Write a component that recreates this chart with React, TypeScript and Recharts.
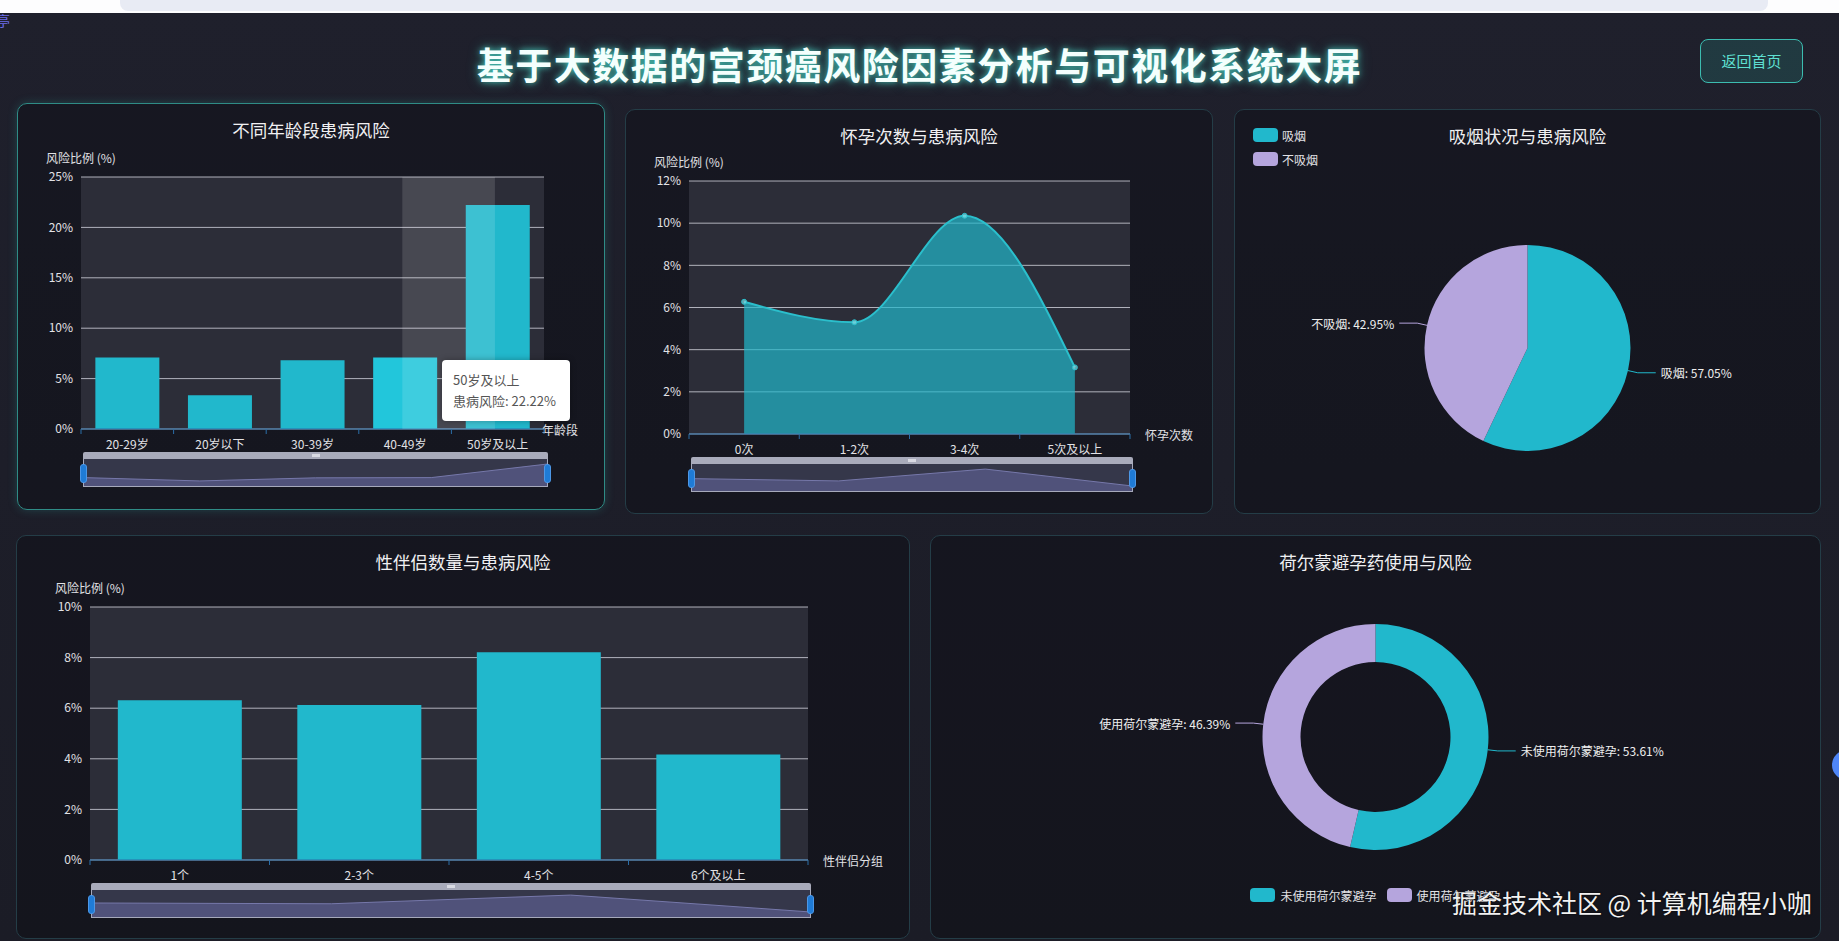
import React from 'react';
import {
  BarChart, Bar, AreaChart, Area, PieChart, Pie, Cell,
  XAxis, YAxis, CartesianGrid, ReferenceArea,
} from 'recharts';

// ---------- data ----------
const ageCategories = ['20-29岁', '20岁以下', '30-39岁', '40-49岁', '50岁及以上'];
const ageRisk = [7.09, 3.36, 6.83, 7.09, 22.22];
const ageTicks = [0, 5, 10, 15, 20, 25];

const pregCategories = ['0次', '1-2次', '3-4次', '5次及以上'];
const pregRisk = [6.27, 5.3, 10.35, 3.16];
const pregTicks = [0, 2, 4, 6, 8, 10, 12];

const smokeLabels = ['吸烟', '不吸烟'];
const smokeShares = [57.05, 42.95];

const partnerCategories = ['1个', '2-3个', '4-5个', '6个及以上'];
const partnerRisk = [6.31, 6.13, 8.21, 4.17];
const partnerTicks = [0, 2, 4, 6, 8, 10];

const hormoneLabels = ['未使用荷尔蒙避孕', '使用荷尔蒙避孕'];
const hormoneShares = [53.61, 46.39];

const hoverIndex = 4;     // tooltip category
const emphasisIndex = 3;  // highlighted bar
const shadowStart = 0.235; // axis-pointer shadow (mid-transition) as share of the two bands
const shadowWidth = 0.5;

// ---------- style ----------
const TEAL = '#21b8cc';
const TEAL_HI = '#22c6db';
const PURPLE = '#b5a5dd';
const PIE_COLORS = [TEAL, PURPLE];
const AXIS_BLUE = '#2b6ea8';
const GRID = '#c9cad3';
const PLOT_BG = '#2c2d38';
const TXT = '#e2e2e6';
const FONT = '"Noto Sans CJK SC", "Microsoft YaHei", "Noto Sans", sans-serif';

const ageData = ageCategories.map((name, i) => ({ name, risk: ageRisk[i] }));
const pregData = pregCategories.map((name, i) => ({ name, risk: pregRisk[i] }));
const partnerData = partnerCategories.map((name, i) => ({ name, risk: partnerRisk[i] }));
const smokeData = smokeLabels.map((name, i) => ({ name, value: smokeShares[i] }));
const hormoneData = hormoneLabels.map((name, i) => ({ name, value: hormoneShares[i] }));

const pct = (v: number) => `${v}%`;

const TICK_SIZE = 6;
const TICK_MARGIN = 4;

const CatTick = (props: any) => {
  const { x, y, payload, index, visibleTicksCount } = props;
  const off = payload && payload.offset ? payload.offset : 0;
  const axisY = y - TICK_SIZE - TICK_MARGIN;
  return (
    <g>
      <line x1={x - off} x2={x - off} y1={axisY} y2={axisY + 5} stroke={AXIS_BLUE} strokeWidth={1} />
      {index === visibleTicksCount - 1 && (
        <line x1={x + off} x2={x + off} y1={axisY} y2={axisY + 5} stroke={AXIS_BLUE} strokeWidth={1} />
      )}
      <text x={x} y={axisY + 14} textAnchor="middle" dominantBaseline="central" fill={TXT} fontSize={12} fontFamily={FONT}>
        {payload.value}
      </text>
    </g>
  );
};

const yName = (text: string) => ({
  content: (p: any) => {
    const vb = p.viewBox || {};
    return (
      <text x={vb.x + vb.width} y={vb.y - 20} textAnchor="middle" dominantBaseline="central" fill={TXT} fontSize={12} fontFamily={FONT}>
        {text}
      </text>
    );
  },
});

const xName = (text: string, gap: number) => ({
  content: (p: any) => {
    const vb = p.viewBox || {};
    return (
      <text x={vb.x + vb.width + gap} y={vb.y} textAnchor="start" dominantBaseline="central" fill={TXT} fontSize={12} fontFamily={FONT}>
        {text}
      </text>
    );
  },
});

const makePieLabel = (fontSize: number) => (p: any) => {
  const RAD = Math.PI / 180;
  const cos = Math.cos(-p.midAngle * RAD);
  const sin = Math.sin(-p.midAngle * RAD);
  const sx = p.cx + p.outerRadius * cos;
  const sy = p.cy + p.outerRadius * sin;
  const mx = p.cx + (p.outerRadius + 10) * cos;
  const my = p.cy + (p.outerRadius + 10) * sin;
  const dir = cos >= 0 ? 1 : -1;
  const ex = mx + dir * 18;
  return (
    <g>
      <polyline points={`${sx},${sy} ${mx},${my} ${ex},${my}`} fill="none" stroke={PIE_COLORS[p.index]} strokeWidth={1} />
      <text x={ex + dir * 5} y={my} textAnchor={dir > 0 ? 'start' : 'end'} dominantBaseline="central" fill="#eeeeee" fontSize={fontSize} fontFamily={FONT}>
        {`${p.name}: ${p.value}%`}
      </text>
    </g>
  );
};

const ShadowShape = (p: any) => (
  <rect x={p.x + p.width * shadowStart} y={p.y} width={p.width * shadowWidth} height={p.height} fill="#ffffff" fillOpacity={0.13} />
);

// ---------- pieces ----------
function Panel({ x, y, w, h, active, title, children }: any) {
  return (
    <div
      style={{
        position: 'absolute', left: x, top: y, width: w, height: h, boxSizing: 'border-box',
        border: `1px solid ${active ? '#2f8c86' : '#243d47'}`, borderRadius: 10,
        background: 'rgba(10,10,15,0.35)',
        boxShadow: active ? '0 0 10px rgba(50,180,170,0.25)' : 'none',
      }}
    >
      <div style={{ position: 'absolute', left: -1, top: -1, width: w, height: h }}>
        {children}
        {title && (
          <div style={{ position: 'absolute', left: 0, top: 17, width: w, textAlign: 'center', fontSize: 17.5, lineHeight: '20px', color: '#f0f0f2' }}>
            {title}
          </div>
        )}
      </div>
    </div>
  );
}

function MiniSlider({ left, top, width, values }: any) {
  const data = values.map((v: number, i: number) => ({ i, v }));
  const min = Math.min(...values);
  const max = Math.max(...values);
  const pad = (max - min) * 0.3;
  const bodyH = 28;
  return (
    <div style={{ position: 'absolute', left, top, width }}>
      <div style={{ height: 7, background: '#a9abbb', borderRadius: '2px 2px 0 0', position: 'relative' }}>
        <div style={{ position: 'absolute', left: width / 2 - 4, top: 2, width: 8, height: 3, background: '#d8d9e2' }} />
      </div>
      <div style={{ height: bodyH, border: '1px solid #a6a9bb', borderTop: 'none', background: '#35374a', boxSizing: 'border-box' }}>
        <AreaChart width={width - 2} height={bodyH - 1} data={data} margin={{ top: 0, right: 0, bottom: 0, left: 0 }}>
          <XAxis dataKey="i" type="number" domain={[0, values.length - 1]} hide />
          <YAxis domain={[min - pad, max + pad]} hide />
          <Area type="linear" dataKey="v" stroke="#7678aa" strokeWidth={1} fill="#50527a" fillOpacity={1} baseValue="dataMin" dot={false} isAnimationActive={false} />
        </AreaChart>
      </div>
      {[-3, width - 4].map((l, k) => (
        <div key={k} style={{ position: 'absolute', left: l, top: 12, width: 7, height: 19, background: '#1f7bd6', border: '1px solid #4d97e6', borderRadius: 3, boxSizing: 'border-box' }} />
      ))}
    </div>
  );
}

function LegendSwatch({ color }: any) {
  return <div style={{ width: 25, height: 14, borderRadius: 4, background: color, flex: 'none' }} />;
}

export default function App() {
  return (
    <div
      style={{
        position: 'absolute', left: 0, top: 0, width: 1839, height: 941, overflow: 'hidden',
        background: 'linear-gradient(180deg, #1f202c 0%, #1b1c26 100%)', fontFamily: FONT, color: TXT,
      }}
    >
      {/* browser strip */}
      <div style={{ position: 'absolute', left: 0, top: 0, width: 1839, height: 13, background: '#fdfdfe' }} />
      <div style={{ position: 'absolute', left: 120, top: 0, width: 1648, height: 11, background: '#e8ebf4', borderRadius: '0 0 8px 8px' }} />
      <div style={{ position: 'absolute', left: -4, top: 12, fontSize: 14, color: '#6d6dea', lineHeight: '16px' }}>亭</div>

      {/* header */}
      <div
        style={{
          position: 'absolute', left: 0, top: 42, width: 1839, textAlign: 'center', fontSize: 37, lineHeight: '44px',
          fontWeight: 700, letterSpacing: 1.5, color: '#f4fffd',
          textShadow: '0 0 6px rgba(80,230,210,0.8), 0 0 14px rgba(60,200,190,0.4)',
        }}
      >
        基于大数据的宫颈癌风险因素分析与可视化系统大屏
      </div>
      <div
        style={{
          position: 'absolute', left: 1700, top: 39, width: 103, height: 44, boxSizing: 'border-box',
          border: '1px solid #3cbcb0', borderRadius: 8, background: 'rgba(40,150,140,0.22)',
          color: '#5ee0d2', fontSize: 15, lineHeight: '42px', textAlign: 'center',
        }}
      >
        返回首页
      </div>

      {/* panel 1 */}
      <Panel x={17} y={103} w={588} h={407} active title="不同年龄段患病风险">
        <BarChart width={588} height={407} data={ageData} margin={{ top: 74, right: 61, bottom: 51, left: 0 }} barCategoryGap="15.5%">
          <CartesianGrid vertical={false} stroke={GRID} strokeOpacity={0.85} fill={PLOT_BG} fillOpacity={1} />
          <XAxis dataKey="name" height={30} interval={0} axisLine={{ stroke: AXIS_BLUE }} tickLine={false}
            tickSize={TICK_SIZE} tickMargin={TICK_MARGIN} tick={<CatTick />} label={xName('年龄段', -2)} />
          <YAxis width={64} domain={[0, 25]} ticks={ageTicks} axisLine={false} tickLine={false}
            tick={{ fill: TXT, fontSize: 12 }} tickFormatter={pct} label={yName('风险比例 (%)')} />
          <Bar dataKey="risk" fill={TEAL} isAnimationActive={false}>
            {ageData.map((_, i) => <Cell key={i} fill={i === emphasisIndex ? TEAL_HI : TEAL} />)}
          </Bar>
          <ReferenceArea x1={ageCategories[hoverIndex - 1]} x2={ageCategories[hoverIndex]} ifOverflow="visible" shape={ShadowShape} {...({ zIndex: 700 } as any)} />
        </BarChart>
        <MiniSlider left={66} top={349} width={465} values={ageRisk} />
      </Panel>

      {/* panel 2 */}
      <Panel x={625} y={109} w={588} h={405} title="怀孕次数与患病风险">
        <AreaChart width={588} height={405} data={pregData} margin={{ top: 72, right: 83, bottom: 50, left: 0 }}>
          <CartesianGrid vertical={false} stroke={GRID} strokeOpacity={0.85} fill={PLOT_BG} fillOpacity={1} />
          <XAxis dataKey="name" scale="band" height={30} interval={0} axisLine={{ stroke: AXIS_BLUE }} tickLine={false}
            tickSize={TICK_SIZE} tickMargin={TICK_MARGIN} tick={<CatTick />} label={xName('怀孕次数', 15)} />
          <YAxis width={64} domain={[0, 12]} ticks={pregTicks} axisLine={false} tickLine={false}
            tick={{ fill: TXT, fontSize: 12 }} tickFormatter={pct} label={yName('风险比例 (%)')} />
          <Area type="monotone" dataKey="risk" stroke="#2bbfcc" strokeWidth={2} fill={TEAL} fillOpacity={0.7}
            dot={{ r: 2.5, fill: '#7fdbe4', stroke: '#2bbfcc', strokeWidth: 1 }} isAnimationActive={false} />
        </AreaChart>
        <MiniSlider left={66} top={348} width={442} values={pregRisk} />
      </Panel>

      {/* panel 3 */}
      <Panel x={1234} y={109} w={587} h={405} title="吸烟状况与患病风险">
        <PieChart width={587} height={405} margin={{ top: 0, right: 0, bottom: 0, left: 0 }}>
          <Pie data={smokeData} dataKey="value" nameKey="name" cx="50%" cy="59%" outerRadius={103}
            startAngle={90} endAngle={-270} stroke="none" label={makePieLabel(12)} labelLine={false} isAnimationActive={false}>
            {smokeData.map((_, i) => <Cell key={i} fill={PIE_COLORS[i]} />)}
          </Pie>
        </PieChart>
        <div style={{ position: 'absolute', left: 19, top: 19, display: 'flex', flexDirection: 'column', gap: 10 }}>
          {smokeLabels.map((l, i) => (
            <div key={l} style={{ display: 'flex', alignItems: 'center', height: 14 }}>
              <LegendSwatch color={PIE_COLORS[i]} />
              <span style={{ marginLeft: 4, fontSize: 12, color: TXT }}>{l}</span>
            </div>
          ))}
        </div>
      </Panel>

      {/* panel 4 */}
      <Panel x={16} y={535} w={894} h={404} title="性伴侣数量与患病风险">
        <BarChart width={894} height={404} data={partnerData} margin={{ top: 72, right: 102, bottom: 49, left: 0 }} barCategoryGap="15.5%">
          <CartesianGrid vertical={false} stroke={GRID} strokeOpacity={0.85} fill={PLOT_BG} fillOpacity={1} />
          <XAxis dataKey="name" height={30} interval={0} axisLine={{ stroke: AXIS_BLUE }} tickLine={false}
            tickSize={TICK_SIZE} tickMargin={TICK_MARGIN} tick={<CatTick />} label={xName('性伴侣分组', 15)} />
          <YAxis width={74} domain={[0, 10]} ticks={partnerTicks} axisLine={false} tickLine={false}
            tick={{ fill: TXT, fontSize: 12 }} tickFormatter={pct} label={yName('风险比例 (%)')} />
          <Bar dataKey="risk" fill={TEAL} isAnimationActive={false} />
        </BarChart>
        <MiniSlider left={75} top={348} width={720} values={partnerRisk} />
      </Panel>

      {/* panel 5 */}
      <Panel x={930} y={535} w={891} h={404} title="荷尔蒙避孕药使用与风险">
        <PieChart width={891} height={404} margin={{ top: 0, right: 0, bottom: 0, left: 0 }}>
          <Pie data={hormoneData} dataKey="value" nameKey="name" cx="50%" cy="50%" innerRadius={75} outerRadius={113}
            startAngle={90} endAngle={-270} stroke="none" label={makePieLabel(12)} labelLine={false} isAnimationActive={false}>
            {hormoneData.map((_, i) => <Cell key={i} fill={PIE_COLORS[i]} />)}
          </Pie>
        </PieChart>
        <div style={{ position: 'absolute', left: 0, top: 353, width: 891, display: 'flex', justifyContent: 'center', gap: 10 }}>
          {hormoneLabels.map((l, i) => (
            <div key={l} style={{ display: 'flex', alignItems: 'center', height: 14 }}>
              <LegendSwatch color={PIE_COLORS[i]} />
              <span style={{ marginLeft: 5, fontSize: 12, color: TXT }}>{l}</span>
            </div>
          ))}
        </div>
      </Panel>

      {/* tooltip of chart 1 */}
      <div
        style={{
          position: 'absolute', left: 442, top: 360, width: 128, height: 61, boxSizing: 'border-box',
          background: '#ffffff', borderRadius: 4, boxShadow: '0 0 6px rgba(0,0,0,0.3)', padding: '9px 11px',
          fontSize: 13, lineHeight: '21px', color: '#555', whiteSpace: 'nowrap',
        }}
      >
        <div>{ageCategories[hoverIndex]}</div>
        <div>{`患病风险: ${ageRisk[hoverIndex]}%`}</div>
      </div>

      {/* watermark */}
      <div style={{ position: 'absolute', left: 1452, top: 889, fontSize: 25, lineHeight: '26px', color: '#f2f2f2', textShadow: '0 0 2px rgba(0,0,0,0.9)', whiteSpace: 'nowrap' }}>
        掘金技术社区 @ 计算机编程小咖
      </div>
      <div style={{ position: 'absolute', left: 1832, top: 750, width: 30, height: 30, borderRadius: '50%', background: '#4f86f7' }} />
    </div>
  );
}
